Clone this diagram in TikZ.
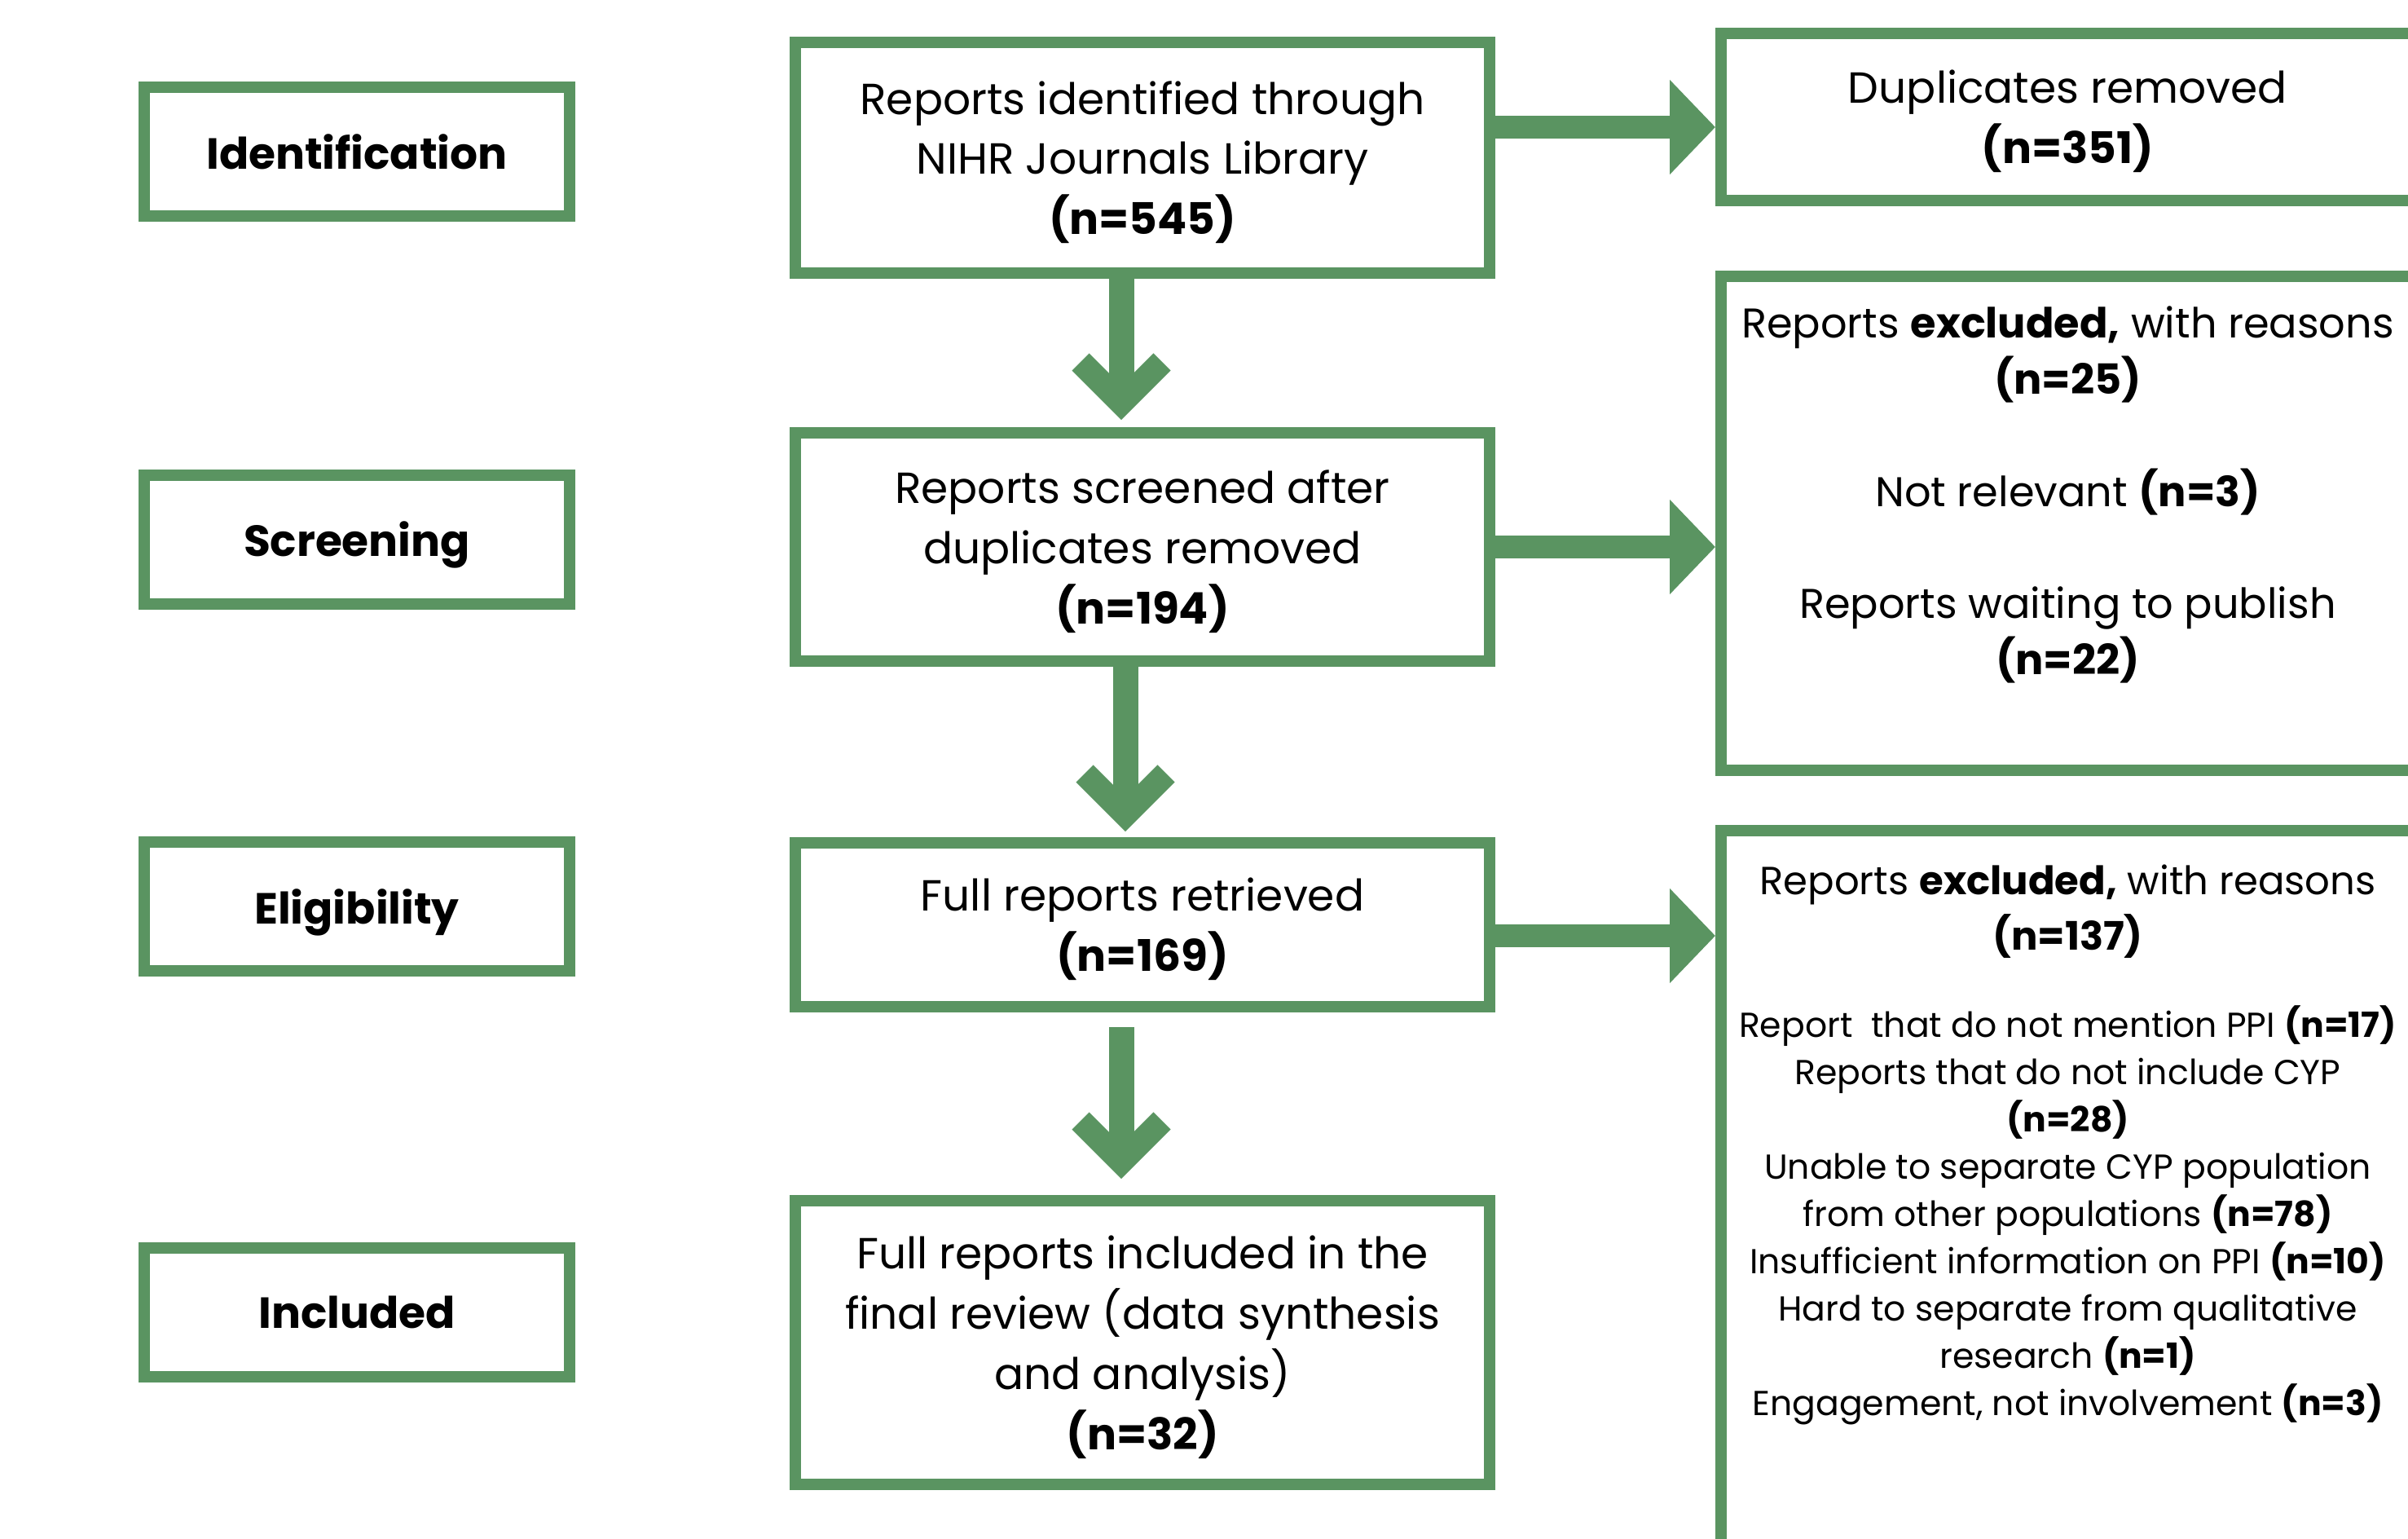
\documentclass[tikz,border=0pt]{standalone}
\usepackage{fontspec}
\setmainfont{Poppins}
\usetikzlibrary{arrows.meta}
\definecolor{prisma}{RGB}{90,148,97}

\begin{document}
\begin{tikzpicture}[line join=miter,font=\fontsize{15.2}{21}\selectfont,
    stage/.style={draw=prisma,line width=0.14cm,minimum width=5.22cm,minimum height=1.58cm,text depth=0pt,font=\fontsize{15.2}{21}\selectfont\bfseries},
    flow/.style={draw=prisma,line width=0.14cm,minimum width=8.52cm,align=center,text depth=0pt},
    side/.style={draw=prisma,line width=0.14cm,minimum width=8.51cm},
    stem/.style={draw=prisma,line width=0.31cm},
    barb/.style={draw=prisma,line width=0.3cm,line cap=butt,line join=miter},
    toright/.style={draw=prisma,line width=0.28cm,-{Triangle[length=0.56cm,width=1.13cm]}}]
    \useasboundingbox (0,0) rectangle (29.55,-18.88);
    \clip (0,0) rectangle (29.55,-18.88);
    % stages
    \node[stage] (ident) at (4.38,-1.86) {Identification};
    \node[stage] (screen) at (4.38,-6.615) {Screening};
    \node[stage] (elig) at (4.38,-11.12) {Eligibility};
    \node[stage] (incl) at (4.38,-16.095) {Included};
    % main flow
    \node[flow,minimum height=2.83cm] (found) at (14.02,-1.935)
        {Reports identified through\\NIHR Journals Library\\\textbf{(n=545)}};
    \node[flow,minimum height=2.80cm] (screened) at (14.02,-6.71)
        {Reports screened after\\duplicates removed\\\textbf{(n=194)}};
    \node[flow,minimum height=2.01cm] (full) at (14.02,-11.345)
        {Full reports retrieved\\\textbf{(n=169)}};
    \node[flow,minimum height=3.48cm] (final) at (14.02,-16.47)
        {Full reports included in the\\final review (data synthesis\\and analysis)\\\textbf{(n=32)}};
    % excluded
    \node[side,minimum height=2.05cm,align=center,text depth=0pt] (dup) at (25.375,-1.435)
        {Duplicates removed\\\textbf{(n=351)}};
    \node[side,minimum height=6.06cm] (excl1) at (25.375,-6.42) {};
    \node[side,minimum height=9.34cm] (excl2) at (25.375,-14.86) {};
    \node[anchor=north,align=center,inner sep=0pt,font=\fontsize{14.5}{19.6}\selectfont] (why1) at ([yshift=-0.43cm]excl1.north)
        {Reports \textbf{excluded,} with reasons\\\textbf{(n=25)}\\[19.6pt]
         Not relevant \textbf{(n=3)}\\[19.6pt]
         Reports waiting to publish\\\textbf{(n=22)}};
    \node[anchor=north,align=center,inner sep=0pt,font=\fontsize{13.7}{19.3}\selectfont] (why2) at ([yshift=-0.48cm]excl2.north)
        {Reports \textbf{excluded,} with reasons\\\textbf{(n=137)}};
    \node[anchor=north,align=center,inner sep=0pt,font=\fontsize{12.1}{16.5}\selectfont] (why2list) at ([yshift=-2.21cm]excl2.north)
        {Report\ \ that do not mention PPI \textbf{(n=17)}\\
         Reports that do not include CYP\\\textbf{(n=28)}\\
         Unable to separate CYP population\\
         from other populations \textbf{(n=78)}\\
         Insufficient information on PPI \textbf{(n=10)}\\
         Hard to separate from qualitative\\
         research \textbf{(n=1)}\\
         Engagement, not involvement \textbf{(n=3)}};
    % arrows down
    \coordinate (v1) at ([xshift=-0.26cm,yshift=0.3cm]screened.north);
    \draw[stem] (v1 |- found.south) -- (v1);
    \draw[barb] ([shift={(-0.5,0.5)}]v1) -- (v1) -- ([shift={(0.5,0.5)}]v1);
    \coordinate (v2) at ([xshift=-0.21cm,yshift=0.28cm]full.north);
    \draw[stem] (v2 |- screened.south) -- (v2);
    \draw[barb] ([shift={(-0.5,0.5)}]v2) -- (v2) -- ([shift={(0.5,0.5)}]v2);
    \coordinate (v3) at ([xshift=-0.26cm,yshift=0.41cm]final.north);
    \draw[stem] ([yshift=-0.18cm]v3 |- full.south) -- (v3);
    \draw[barb] ([shift={(-0.5,0.5)}]v3) -- (v3) -- ([shift={(0.5,0.5)}]v3);
    % arrows right
    \draw[toright] ([yshift=3.75mm]found.east) -- ([yshift=3.75mm]found.east -| dup.west);
    \draw[toright] (screened.east) -- (screened.east -| excl1.west);
    \draw[toright] ([yshift=-1.35mm]full.east) -- ([yshift=-1.35mm]full.east -| excl2.west);
\end{tikzpicture}
\end{document}
